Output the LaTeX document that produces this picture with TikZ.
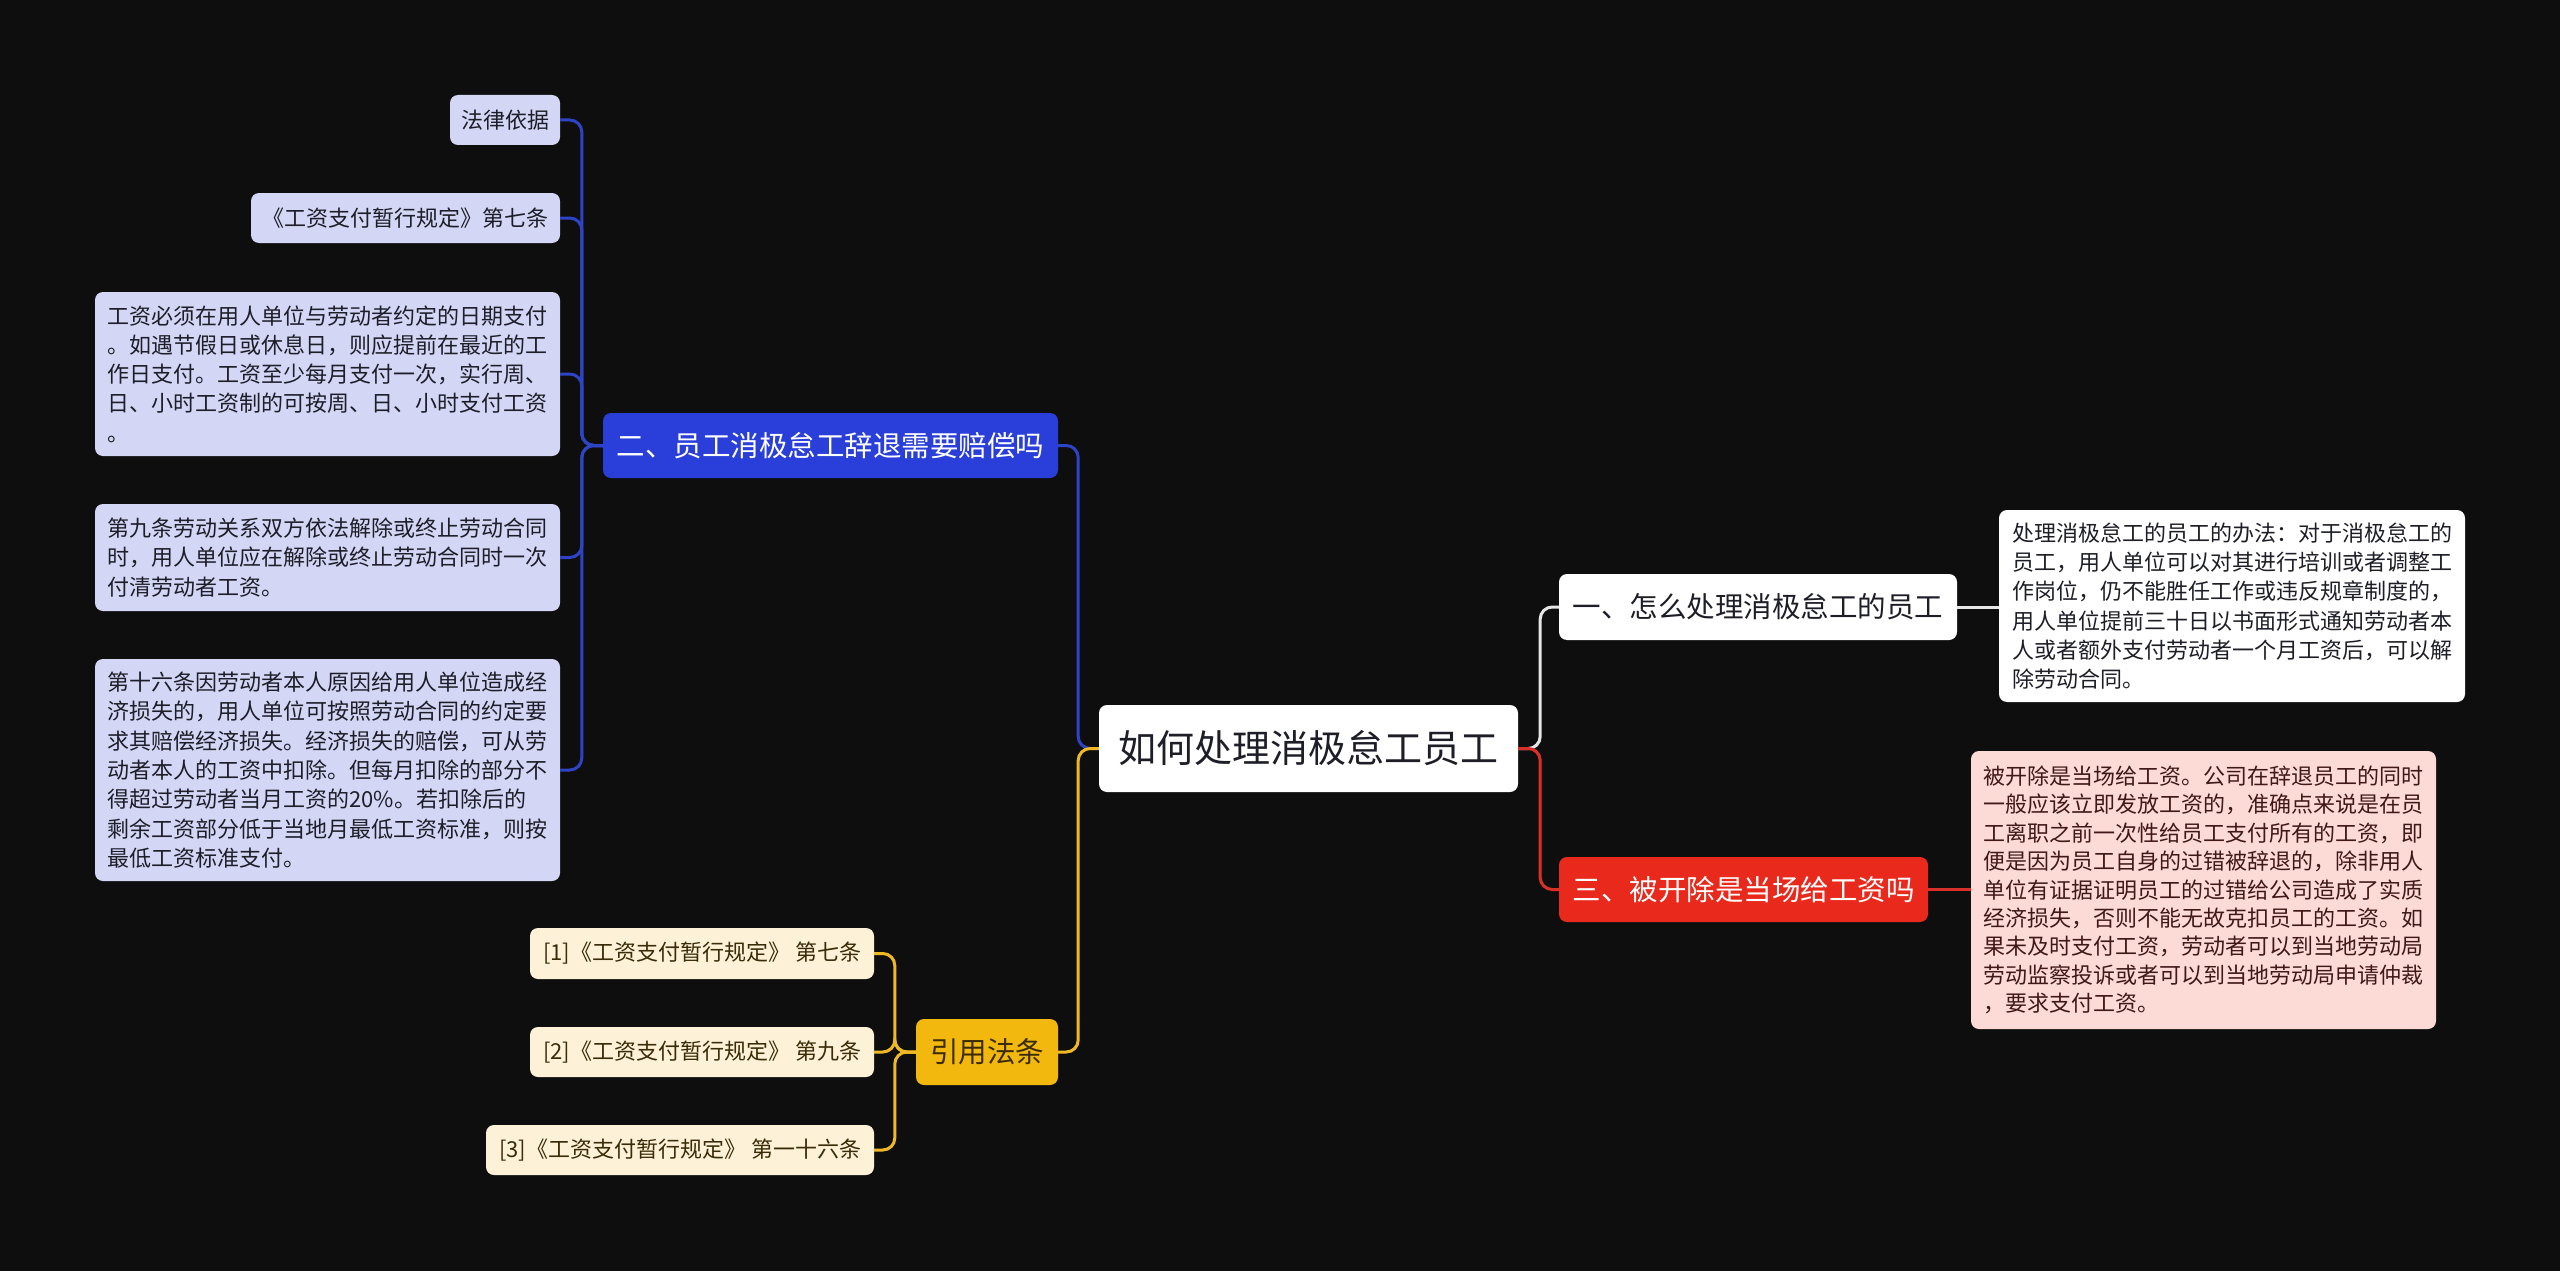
\documentclass[tikz,border=0pt]{standalone}
\usepackage{fontspec}
\setmainfont{Noto Sans CJK SC}
\definecolor{bgc}{HTML}{0E0E0E}
\definecolor{bmain}{HTML}{2A3FD9}
\definecolor{bln}{HTML}{2E44C6}
\definecolor{bleafc}{HTML}{D3D7F5}
\definecolor{ymain}{HTML}{F2B80D}
\definecolor{yln}{HTML}{F0B824}
\definecolor{yleafc}{HTML}{FDF2D7}
\definecolor{rmain}{HTML}{E8291C}
\definecolor{rln}{HTML}{D9302A}
\definecolor{rleafc}{HTML}{FCDAD6}
\definecolor{wln}{HTML}{E6E6E6}
\definecolor{dtext}{HTML}{1E1E28}
\definecolor{rtext}{HTML}{401818}
\definecolor{ytext}{HTML}{3A2C08}
\begin{document}
\begin{tikzpicture}[x=1pt,y=-1pt,
  box/.style={rounded corners=8pt, inner sep=0pt, align=left},
  leaf/.style={box, font=\fontsize{22}{29.3}\selectfont},
  bleaf/.style={leaf, fill=bleafc, text=dtext},
  yleaf/.style={leaf, fill=yleafc, text=ytext},
  rleaf/.style={leaf, fill=rleafc, text=rtext},
  wleaf/.style={leaf, fill=white, text=dtext},
  branch/.style={box, font=\fontsize{28.5}{34}\selectfont},
  conn/.style={line width=3pt, rounded corners=12pt},
  bline/.style={conn, draw=bln},
  yline/.style={conn, draw=yln},
  rline/.style={conn, draw=rln},
  wline/.style={conn, draw=wln}]
\fill[bgc] (0,0) rectangle (2560,1271);
\useasboundingbox (0,0) rectangle (2560,1271);

% root
\node[box, fill=white, text=dtext, font=\fontsize{38}{44}\selectfont, minimum width=419, minimum height=87] (root) at (1308.5,748.5) {如何处理消极怠工员工};

% branches
\node[branch, fill=bmain, text=white, minimum width=455, minimum height=65] (n2) at (830.5,445.5) {二、员工消极怠工辞退需要赔偿吗};
\node[branch, fill=ymain, text=ytext, minimum width=142, minimum height=66] (cite) at (987,1052) {引用法条};
\node[branch, fill=white, text=dtext, minimum width=398, minimum height=66] (n1) at (1758,607) {一、怎么处理消极怠工的员工};
\node[branch, fill=rmain, text=white, minimum width=369, minimum height=65] (n3) at (1743.5,889.5) {三、被开除是当场给工资吗};

% blue leaves
\node[bleaf, minimum width=110, minimum height=50] (L1) at (505,120) {法律依据};
\node[bleaf, minimum width=309, minimum height=50] (L2) at (405.5,218) {《工资支付暂行规定》第七条};
\node[bleaf, minimum width=465, minimum height=164] (L3) at (327.5,374) {工资必须在用人单位与劳动者约定的日期支付\\。如遇节假日或休息日，则应提前在最近的工\\作日支付。工资至少每月支付一次，实行周、\\日、小时工资制的可按周、日、小时支付工资\\。};
\node[bleaf, minimum width=465, minimum height=107] (L4) at (327.5,557.5) {第九条劳动关系双方依法解除或终止劳动合同\\时，用人单位应在解除或终止劳动合同时一次\\付清劳动者工资。};
\node[bleaf, minimum width=465, minimum height=222] (L5) at (327.5,770) {第十六条因劳动者本人原因给用人单位造成经\\济损失的，用人单位可按照劳动合同的约定要\\求其赔偿经济损失。经济损失的赔偿，可从劳\\动者本人的工资中扣除。但每月扣除的部分不\\得超过劳动者当月工资的20\%。若扣除后的\\剩余工资部分低于当地月最低工资标准，则按\\最低工资标准支付。};

% yellow leaves
\node[yleaf, minimum width=344, minimum height=51] (Y1) at (702,953.5) {[1]《工资支付暂行规定》 第七条};
\node[yleaf, minimum width=344, minimum height=50] (Y2) at (702,1052) {[2]《工资支付暂行规定》 第九条};
\node[yleaf, minimum width=388, minimum height=50] (Y3) at (680,1150) {[3]《工资支付暂行规定》 第一十六条};

% right leaves
\node[wleaf, minimum width=466, minimum height=192] (T1) at (2232,606) {处理消极怠工的员工的办法：对于消极怠工的\\员工，用人单位可以对其进行培训或者调整工\\作岗位，仍不能胜任工作或违反规章制度的，\\用人单位提前三十日以书面形式通知劳动者本\\人或者额外支付劳动者一个月工资后，可以解\\除劳动合同。};
\node[rleaf, font=\fontsize{22}{28.4}\selectfont, minimum width=465, minimum height=278] (T3) at (2203.5,890) {被开除是当场给工资。公司在辞退员工的同时\\一般应该立即发放工资的，准确点来说是在员\\工离职之前一次性给员工支付所有的工资，即\\便是因为员工自身的过错被辞退的，除非用人\\单位有证据证明员工的过错给公司造成了实质\\经济损失，否则不能无故克扣员工的工资。如\\果未及时支付工资，劳动者可以到当地劳动局\\劳动监察投诉或者可以到当地劳动局申请仲裁\\，要求支付工资。};

% connectors
\draw[bline] (n2.east) -- ++(20,0) |- (root.west);
\draw[yline] (cite.east) -- ++(20,0) |- (root.west);
\draw[wline] (root.east) -- ++(22,0) |- (n1.west);
\draw[rline] (root.east) -- ++(22,0) |- (n3.west);
\draw[wline] (n1.east) -- (n1.east -| T1.west);
\draw[rline] (n3.east) -- (n3.east -| T3.west);
\foreach \c in {L1,L2,L3,L4,L5}{
  \draw[bline] (n2.west) -- ++(-21,0) |- (\c.east);
}
\foreach \c in {Y1,Y2,Y3}{
  \draw[yline] (cite.west) -- ++(-21,0) |- (\c.east);
}
\end{tikzpicture}
\end{document}
